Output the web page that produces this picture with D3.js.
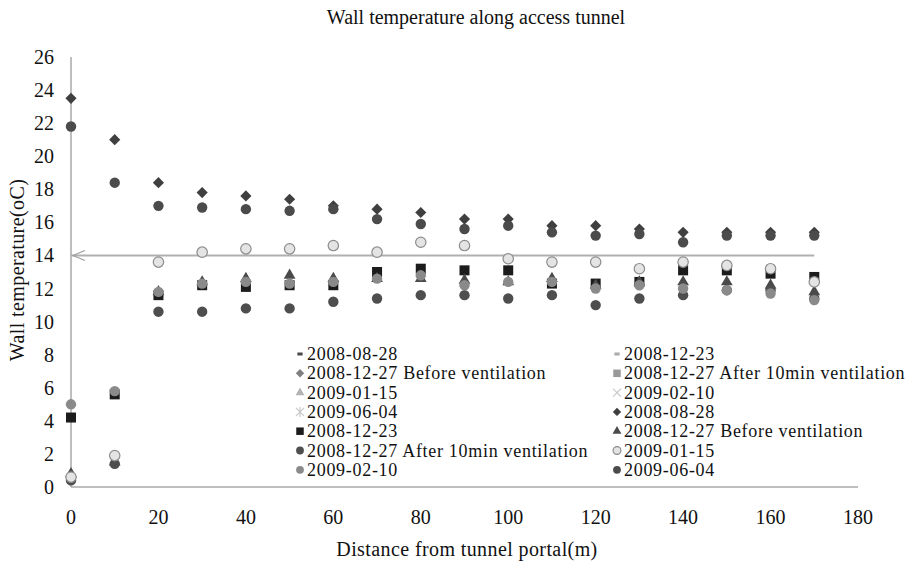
<!DOCTYPE html>
<html>
<head>
<meta charset="utf-8">
<script src="https://cdn.jsdelivr.net/npm/d3@7"></script>
<style>
  body { margin: 0; background: #fff; }
  text { font-family: "Liberation Serif", "Times New Roman", serif; fill: #111; }
</style>
</head>
<body>
<svg id="chart" width="913" height="563"></svg>
<script>
// distances along the tunnel (m)
var distance = [0, 10, 20, 30, 40, 50, 60, 70, 80, 90, 100, 110, 120, 130, 140, 150, 160, 170];

// wall temperature (oC) per survey
var aug28   = [23.5, 21.0, 18.4, 17.8, 17.6, 17.4, 17.0, 16.8, 16.6, 16.2, 16.2, 15.8, 15.8, 15.6, 15.4, 15.4, 15.4, 15.4];
var dec23   = [4.2, 5.6, 11.6, 12.2, 12.1, 12.2, 12.2, 13.0, 13.2, 13.1, 13.1, 12.3, 12.3, 12.4, 13.1, 13.1, 12.9, 12.7];
var dec27b  = [0.8, 1.5, 11.8, 12.4, 12.6, 12.8, 12.6, 12.6, 12.6, 12.5, 12.4, 12.6, 12.2, 12.4, 12.4, 12.4, 12.2, 11.8];
var dec27a  = [0.4, 1.4, 10.6, 10.6, 10.8, 10.8, 11.2, 11.4, 11.6, 11.6, 11.4, 11.6, 11.0, 11.4, 11.6, 11.9, 11.9, 11.4];
var jan15   = [0.6, 1.9, 13.6, 14.2, 14.4, 14.4, 14.6, 14.2, 14.8, 14.6, 13.8, 13.6, 13.6, 13.2, 13.6, 13.4, 13.2, 12.4];
var feb10   = [5.0, 5.8, 11.8, 12.3, 12.4, 12.3, 12.4, 12.6, 12.8, 12.2, 12.4, 12.4, 12.0, 12.2, 12.0, 11.9, 11.7, 11.3];
var jun04   = [21.8, 18.4, 17.0, 16.9, 16.8, 16.7, 16.8, 16.2, 15.9, 15.6, 15.8, 15.4, 15.2, 15.3, 14.8, 15.2, 15.2, 15.2];

// reference line
var refX = [0, 170];
var refY = [14, 14];

var xTicks = [0, 20, 40, 60, 80, 100, 120, 140, 160, 180];
var yTicks = [0, 2, 4, 6, 8, 10, 12, 14, 16, 18, 20, 22, 24, 26];

var legendNames = ["2008-08-28", "2008-12-23", "2008-12-27 Before ventilation", "2008-12-27 After 10min ventilation",
  "2009-01-15", "2009-02-10", "2009-06-04", "2008-08-28", "2008-12-23", "2008-12-27 Before ventilation",
  "2008-12-27 After 10min ventilation", "2009-01-15", "2009-02-10", "2009-06-04"];

var svg = d3.select("#chart");
var plotLeft = 71, plotRight = 858, plotTop = 57, plotBottom = 487;

var x = d3.scaleLinear().domain([0, 180]).range([plotLeft, plotRight]);
var y = d3.scaleLinear().domain([0, 26]).range([plotBottom, plotTop]);

// marker styles, in legend order
var styles = [
  {shape: "dash", fill: "#4a4a4a"},
  {shape: "dash", fill: "#aaaaaa"},
  {shape: "diamond", fill: "#808080"},
  {shape: "square", fill: "#999999"},
  {shape: "triangle", fill: "#b4b4b4"},
  {shape: "x", fill: "#c8c8c8"},
  {shape: "star", fill: "#c8c8c8"},
  {shape: "diamond", fill: "#3f3f3f", data: aug28},
  {shape: "square", fill: "#1c1c1c", data: dec23},
  {shape: "triangle", fill: "#4a4a4a", data: dec27b},
  {shape: "circle", fill: "#4e4e4e", data: dec27a},
  {shape: "circle", fill: "#e4e4e4", stroke: "#8c8c8c", data: jan15},
  {shape: "circle", fill: "#8a8a8a", data: feb10},
  {shape: "circle", fill: "#4b4b4b", data: jun04}
];

function drawMarker(g, st, scale) {
  var s = scale || 1;
  if (st.shape == "circle") {
    g.append("circle").attr("r", 5.2 * s).attr("fill", st.fill)
      .attr("stroke", st.stroke || "none").attr("stroke-width", 1.2);
  } else if (st.shape == "square") {
    g.append("rect").attr("x", -5 * s).attr("y", -5 * s).attr("width", 10 * s).attr("height", 10 * s).attr("fill", st.fill);
  } else if (st.shape == "diamond") {
    g.append("path").attr("d", d3.symbol(d3.symbolSquare, 62 * s * s)()).attr("transform", "rotate(45)").attr("fill", st.fill);
  } else if (st.shape == "triangle") {
    g.append("path").attr("d", d3.symbol(d3.symbolTriangle, 60 * s * s)()).attr("fill", st.fill);
  } else if (st.shape == "dash") {
    g.append("rect").attr("x", -3.5 * s).attr("y", -1.5).attr("width", 7 * s).attr("height", 3).attr("fill", st.fill);
  } else if (st.shape == "x") {
    g.append("path").attr("d", "M-4,-4L4,4M-4,4L4,-4").attr("stroke", st.fill).attr("stroke-width", 1.2);
  } else if (st.shape == "star") {
    g.append("path").attr("d", "M-4,-4L4,4M-4,4L4,-4M0,-5L0,5").attr("stroke", st.fill).attr("stroke-width", 1.2);
  }
}

// axes
svg.append("line").attr("x1", x(0)).attr("x2", x(0)).attr("y1", y(26)).attr("y2", y(0))
  .attr("stroke", "#a8a8a8").attr("stroke-width", 1.5);
svg.append("line").attr("x1", x(0)).attr("x2", x(180)).attr("y1", y(0)).attr("y2", y(0))
  .attr("stroke", "#a8a8a8").attr("stroke-width", 1.5);

svg.selectAll(".ytick").data(yTicks).enter().append("text")
  .attr("x", 54).attr("y", function(d) { return y(d) + 7; })
  .attr("text-anchor", "end").style("font-size", "20px").text(function(d) { return d; });

svg.selectAll(".xtick").data(xTicks).enter().append("text")
  .attr("x", function(d) { return x(d); }).attr("y", 524)
  .attr("text-anchor", "middle").style("font-size", "20px").text(function(d) { return d; });

// reference line at 14 with arrow head on the left
svg.append("line").attr("x1", x(refX[0])).attr("x2", x(refX[1])).attr("y1", y(refY[0])).attr("y2", y(refY[1]))
  .attr("stroke", "#b0b0b0").attr("stroke-width", 2);
svg.append("path")
  .attr("d", "M" + (x(refX[0]) + 14) + "," + (y(refY[0]) - 5) + "L" + (x(refX[0]) + 2) + "," + y(refY[0]) +
    "L" + (x(refX[0]) + 14) + "," + (y(refY[0]) + 5))
  .attr("fill", "none").attr("stroke", "#a0a0a0").attr("stroke-width", 1.2);

// data points
styles.forEach(function(st) {
  if (!st.data) return;
  svg.append("g").selectAll("g").data(st.data).enter().append("g")
    .attr("transform", function(d, i) { return "translate(" + x(distance[i]) + "," + y(d) + ")"; })
    .each(function() { drawMarker(d3.select(this), st); });
});

// legend
var legend = svg.append("g");
styles.forEach(function(st, i) {
  var col = i % 2, row = Math.floor(i / 2);
  var lx = col == 0 ? 300 : 617, ly = 354 + row * 19.3;
  var g = legend.append("g").attr("transform", "translate(" + lx + "," + ly + ")");
  drawMarker(g, st, 0.75);
  g.append("text").attr("x", 7).attr("y", 6).style("font-size", "18px")
    .style("letter-spacing", "0.7px").text(legendNames[i]);
});

// titles
svg.append("text").attr("x", 476).attr("y", 24).attr("text-anchor", "middle")
  .style("font-size", "20px").text("Wall temperature along access tunnel");
svg.append("text").attr("x", 467).attr("y", 556).attr("text-anchor", "middle")
  .style("font-size", "20px").style("letter-spacing", "0.4px").text("Distance from tunnel portal(m)");
svg.append("text").attr("transform", "translate(24,270) rotate(-90)").attr("text-anchor", "middle")
  .style("font-size", "20px").style("letter-spacing", "0.4px").text("Wall temperature(oC)");
</script>
</body>
</html>
